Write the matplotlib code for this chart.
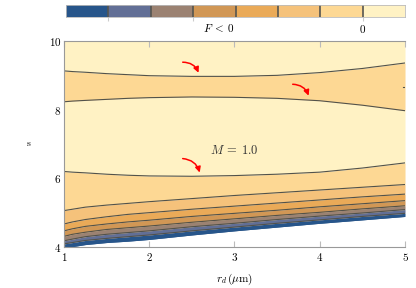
import matplotlib
matplotlib.use('Agg')
import matplotlib.pyplot as plt

plt.rcParams['mathtext.fontset'] = 'cm'
plt.rcParams['font.family'] = 'serif'
plt.rcParams['font.serif'] = ['DejaVu Serif']

# r_d sample points (um) and the s value of each contour line
r_pts = [1, 1.1, 1.25, 1.5, 1.75, 2, 2.5, 3, 3.5, 4, 4.5, 5]

# upper band (F just below 0) and the M = 1.0 line
u1 = [9.13, 9.11, 9.09, 9.05, 9.02, 8.99, 8.97, 8.97, 9.00, 9.08, 9.20, 9.36]
u2 = [8.23, 8.25, 8.27, 8.30, 8.33, 8.35, 8.37, 8.36, 8.33, 8.26, 8.13, 7.97]
l0 = [6.20, 6.18, 6.16, 6.12, 6.09, 6.07, 6.06, 6.08, 6.12, 6.18, 6.30, 6.45]

# lower packed contours, top to bottom
l1 = [5.06, 5.10, 5.16, 5.22, 5.27, 5.32, 5.41, 5.50, 5.58, 5.66, 5.74, 5.82]
l2 = [4.67, 4.73, 4.80, 4.88, 4.95, 5.00, 5.10, 5.19, 5.28, 5.37, 5.46, 5.54]
l3 = [4.47, 4.53, 4.60, 4.67, 4.73, 4.78, 4.89, 4.98, 5.07, 5.17, 5.26, 5.35]
l4 = [4.31, 4.37, 4.43, 4.51, 4.56, 4.61, 4.72, 4.82, 4.92, 5.01, 5.11, 5.20]
l5 = [4.18, 4.23, 4.30, 4.37, 4.42, 4.47, 4.59, 4.69, 4.80, 4.90, 4.99, 5.09]
l6 = [4.09, 4.13, 4.19, 4.25, 4.30, 4.35, 4.47, 4.58, 4.69, 4.79, 4.89, 4.98]
edge = [3.95, 4.01, 4.07, 4.13, 4.17, 4.22, 4.35, 4.47, 4.58, 4.69, 4.79, 4.89]

# small pocket at the right edge
pocket_r = [4.975, 5.0]
pocket_s = [8.67, 8.67]

# colour scale, lowest to highest
colores = ['#27558a', '#626f96', '#9b8272', '#d19755',
           '#eaaa58', '#f5c27b', '#fdd894', '#fff2c4']

x_ticks = [1, 2, 3, 4, 5]
y_ticks = [4, 6, 8, 10]

# arrows (start, end) in data units
flechas = [((2.36, 9.38), (2.59, 9.00)),
           ((3.65, 8.74), (3.88, 8.33)),
           ((2.36, 6.58), (2.60, 6.09))]

fig = plt.figure(figsize=(4.16, 2.88), dpi=100)
ax = fig.add_axes([0.1538, 0.1424, 0.8198, 0.7152])

top = [10] * len(r_pts)
bandas = [(edge, l6, colores[0]), (l6, l5, colores[1]), (l5, l4, colores[2]),
          (l4, l3, colores[3]), (l3, l2, colores[4]), (l2, l1, colores[5]),
          (l1, l0, colores[6]), (l0, u2, colores[7]), (u2, u1, colores[6]),
          (u1, top, colores[7])]
for abajo, arriba, c in bandas:
    ax.fill_between(r_pts, abajo, arriba, color=c, lw=0, zorder=1)

for linea in [u1, u2, l0, l1, l2, l3, l4, l5, l6]:
    ax.plot(r_pts, linea, color='#52524a', lw=0.8, zorder=2)
ax.plot(r_pts, edge, color='#27558a', lw=0.8, zorder=2)
ax.plot(pocket_r, pocket_s, color='#52524a', lw=0.8, zorder=2)

for ini, fin in flechas:
    ax.annotate('', xy=fin, xytext=ini,
                arrowprops=dict(arrowstyle='-|>', color='red', lw=1.1,
                                mutation_scale=8,
                                connectionstyle='arc3,rad=-0.4'),
                zorder=3)

ax.text(3.0, 6.8, r'$M\:=\:1.0$', fontsize=9, ha='center', va='center', color='#333333')

ax.set_xlim(1, 5)
ax.set_ylim(4, 10)
ax.set_xticks(x_ticks)
ax.set_xticklabels(['$%d$' % v for v in x_ticks], fontsize=8)
ax.set_yticks(y_ticks)
ax.set_yticklabels(['$%d$' % v for v in y_ticks], fontsize=8)
ax.tick_params(axis='x', direction='in', length=4, color='#bbbbbb', top=True, pad=3)
ax.tick_params(axis='y', direction='in', length=0, pad=2)
for lado in ['left', 'bottom', 'top']:
    ax.spines[lado].set_color('#999999')
    ax.spines[lado].set_linewidth(0.8)
ax.spines['right'].set_visible(False)
ax.set_xlabel(r'$r_d\,(\mu\mathrm{m})$', fontsize=8, labelpad=6)
ax.set_ylabel(r'$\mathrm{s}$', fontsize=7, rotation=0, labelpad=14, va='center')

# barra de colores
cax = fig.add_axes([0.1587, 0.94, 0.815, 0.043])
for i, c in enumerate(colores):
    cax.axvspan(i, i + 1, color=c, lw=0)
for i in range(1, len(colores)):
    cax.axvline(i, color='#555550', lw=1.2)
cax.set_xlim(0, len(colores))
cax.set_ylim(0, 1)
cax.set_yticks([])
cax.set_xticks([1, 3, 7])
cax.set_xticklabels(['', '', '$0$'], fontsize=8)
cax.tick_params(axis='x', direction='out', length=3, color='#cccccc', pad=1)
cax.text(3.6, -0.35, r'$F\:<\:0$', fontsize=8, ha='center', va='top')
for lado in cax.spines.values():
    lado.set_color('#bbbbbb')
    lado.set_linewidth(0.6)

fig.savefig('out.png', dpi=100)
